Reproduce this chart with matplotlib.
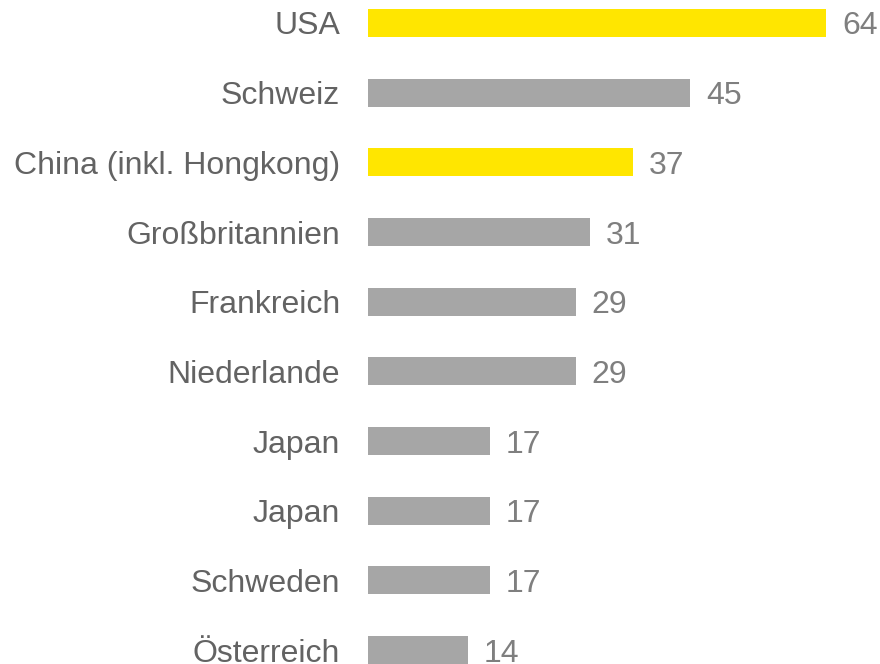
import matplotlib.pyplot as plt

# categories, values and which bars get the highlight colour
countries = ['USA', 'Schweiz', 'China (inkl. Hongkong)', 'Großbritannien', 'Frankreich',
             'Niederlande', 'Japan', 'Japan', 'Schweden', 'Österreich']
values = [64, 45, 37, 31, 29, 29, 17, 17, 17, 14]
highlight = [True, False, True, False, False, False, False, False, False, False]

yellow = '#FFE600'
grey = '#A6A6A6'
colors = [yellow if h else grey for h in highlight]

plt.rcParams['font.family'] = ['Liberation Sans', 'DejaVu Sans']

fig = plt.figure(figsize=(8.8, 6.64), dpi=100)
ax = fig.add_axes([368 / 880, 0, 512 / 880, 1])

pos = list(range(len(countries)))
ax.barh(pos, values, height=0.4, color=colors)

# value labels right of each bar
for p, v in zip(pos, values):
    ax.text(v + 2.2, p, str(v), va='center_baseline', ha='left',
            fontsize=23, color='#7F7F7F')

ax.set_yticks(pos)
ax.set_yticklabels(countries, fontsize=23, color='#636363')
ax.tick_params(axis='y', length=0, pad=20)
ax.set_xticks([])

ax.set_xlim(0, 71.5)
ax.set_ylim(9.2, -0.33)

for s in ax.spines.values():
    s.set_visible(False)

fig.savefig('out.png', dpi=100)
